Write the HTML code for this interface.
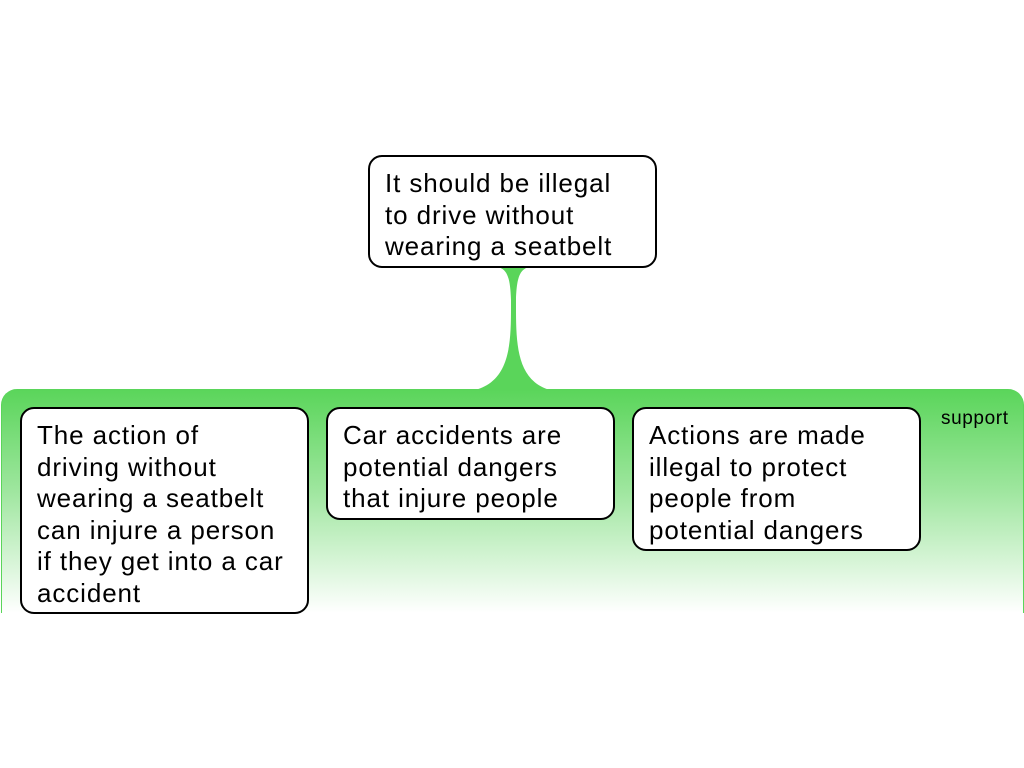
<!DOCTYPE html>
<html><head><style>
body{margin:0;width:1024px;height:768px;background:#fff;position:relative;overflow:hidden;font-family:"Liberation Sans",sans-serif}
.n{position:absolute;background:#fff;border:2px solid #000;border-radius:14px;box-sizing:border-box;font-size:26px;letter-spacing:0.9px;line-height:31.5px;padding:11px 0 12px 15px;color:#000;white-space:nowrap}
.g{position:absolute;left:1px;top:389px;width:1023px;height:224px;border-radius:16px 16px 0 0;background:linear-gradient(#5ad55a 0%,#9ee69e 45%,#fff 100%);border-left:1px solid #5ad55a;border-right:1px solid #5ad55a;box-sizing:border-box}
</style></head><body>
<div class="g"></div>
<svg style="position:absolute;left:0;top:0" width="1024" height="768">
<path d="M487 266 C505 266 510 270 511 300 C511 340 512 380 475 390 L550 390 C515 380 516 340 516 300 C517 270 522 266 540 266 Z" fill="#5ad55a"/>
</svg>
<div style="position:absolute;left:941px;top:408px;font-size:19px;letter-spacing:0.6px">support</div>
<div class="n" style="left:368px;top:155px;width:289px;height:113px">It should be illegal<br>to drive without<br>wearing a seatbelt</div>
<div class="n" style="left:20px;top:407px;width:289px;height:207px">The action of<br>driving without<br>wearing a seatbelt<br>can injure a person<br>if they get into a car<br>accident</div>
<div class="n" style="left:326px;top:407px;width:289px;height:113px">Car accidents are<br>potential dangers<br>that injure people</div>
<div class="n" style="left:632px;top:407px;width:289px;height:144px">Actions are made<br>illegal to protect<br>people from<br>potential dangers</div>
</body></html>
